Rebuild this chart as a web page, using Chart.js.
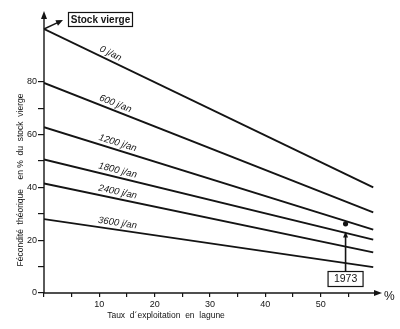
<!DOCTYPE html>
<html><head><meta charset="utf-8">
<script src="https://cdn.jsdelivr.net/npm/chart.js@4"></script>
<style>html,body{margin:0;padding:0;background:#fff}#w{width:400px;height:329px}</style>
</head><body><div id="w"><canvas id="c"></canvas></div>
<script>
const seriesNames = ['0 j/an','600 j/an','1200 j/an','1800 j/an','2400 j/an','3600 j/an'];
const xStart = 0;
const xEnd = 59.5;
const startValues = [100, 79.6, 62.8, 50.6, 41.5, 28];
const endValues = [40, 30.5, 24, 20.2, 15.4, 9.8];
const xTickValues = [0,5,10,15,20,25,30,35,40,45,50,55];
const xTickLabels = ['','','10','','20','','30','','40','','50',''];
const yTickValues = [0,10,20,30,40,50,60,70,80];
const yTickLabels = ['0','','20','','40','','60','','80'];
const curveLabelX = 9.6;
const obs1973 = {label:'1973', x:54.5, y:26.2, arrowTip:23.3, boxY:5.3};
const originLabel = 'Stock vierge';
const xTitle = 'Taux  d\u00b4exploitation  en  lagune';
const yTitle = 'F\u00e9condit\u00e9  th\u00e9orique    en %  du  stock  vierge';

const INK = '#141414';
const datasets = seriesNames.map((n,i)=>({
  label:n,
  data:[{x:xStart,y:startValues[i]},{x:xEnd,y:endValues[i]}],
  borderColor:INK, borderWidth:1.9, pointRadius:0, fill:false, tension:0
}));

function arrowHead(ctx, tx, ty, ang, len, half){
  ctx.save(); ctx.translate(tx,ty); ctx.rotate(ang);
  ctx.beginPath(); ctx.moveTo(0,0); ctx.lineTo(-len,-half); ctx.lineTo(-len,half); ctx.closePath(); ctx.fill();
  ctx.restore();
}

const deco = {
  id:'deco',
  afterDraw(chart){
    const {ctx, scales:{x,y}} = chart;
    const x0 = x.getPixelForValue(0), y0 = y.getPixelForValue(0);
    ctx.save();
    ctx.strokeStyle = INK; ctx.fillStyle = INK; ctx.lineWidth = 1.4;
    ctx.beginPath(); ctx.moveTo(x0,y0); ctx.lineTo(x0,17); ctx.stroke();
    arrowHead(ctx, x0, 11, -Math.PI/2, 8, 3);
    ctx.beginPath(); ctx.moveTo(x0,y0); ctx.lineTo(376,y0); ctx.stroke();
    arrowHead(ctx, 382, y0, 0, 8, 3);
    ctx.font = '12px "Liberation Sans"'; ctx.textAlign='left'; ctx.textBaseline='middle';
    ctx.fillText('%', 384, y0+4);
    const ox = x.getPixelForValue(xStart), oy = y.getPixelForValue(startValues[0]);
    const tx = 63, ty = 20;
    const ang = Math.atan2(ty-oy, tx-ox);
    ctx.lineWidth = 1.4;
    ctx.beginPath(); ctx.moveTo(ox,oy); ctx.lineTo(tx-6*Math.cos(ang), ty-6*Math.sin(ang)); ctx.stroke();
    arrowHead(ctx, tx, ty, ang, 7, 3);
    ctx.lineWidth = 1.2;
    ctx.strokeRect(68.5, 12.5, 64, 14);
    ctx.font = 'bold 10px "Liberation Sans"'; ctx.textAlign='center'; ctx.textBaseline='middle';
    ctx.fillText(originLabel, 100.5, 20);
    ctx.font = 'italic 9.5px "Liberation Sans"'; ctx.textAlign='left'; ctx.textBaseline='bottom';
    seriesNames.forEach((n,i)=>{
      const s = startValues[i], e = endValues[i];
      const yv = s + (e-s)*(curveLabelX-xStart)/(xEnd-xStart);
      const px = x.getPixelForValue(curveLabelX), py = y.getPixelForValue(yv);
      const a = Math.atan2(y.getPixelForValue(e)-y.getPixelForValue(s), x.getPixelForValue(xEnd)-x.getPixelForValue(xStart));
      ctx.save(); ctx.translate(px,py); ctx.rotate(a); ctx.fillText(n, 0, -2); ctx.restore();
    });
    const px = x.getPixelForValue(obs1973.x);
    ctx.beginPath(); ctx.arc(px, y.getPixelForValue(obs1973.y), 2.6, 0, Math.PI*2); ctx.fill();
    const bh = 15, bw = 35, by = y.getPixelForValue(obs1973.boxY);
    const tipY = y.getPixelForValue(obs1973.arrowTip);
    ctx.lineWidth = 1.6;
    ctx.beginPath(); ctx.moveTo(px, by-bh/2); ctx.lineTo(px, tipY+5); ctx.stroke();
    arrowHead(ctx, px, tipY, -Math.PI/2, 6, 2.5);
    ctx.lineWidth = 1.2;
    ctx.strokeRect(px-bw/2, by-bh/2, bw, bh);
    ctx.font = '10.5px "Liberation Sans"'; ctx.textAlign='center'; ctx.textBaseline='middle';
    ctx.fillText(obs1973.label, px, by+0.5);
    ctx.font = '8.5px "Liberation Sans"';
    ctx.fillText(xTitle, 166, 316);
    ctx.save(); ctx.translate(21, 180); ctx.rotate(-Math.PI/2); ctx.fillText(yTitle, 0, 0); ctx.restore();
    ctx.restore();
  }
};

new Chart(document.getElementById('c'), {
  type:'line',
  data:{datasets},
  options:{
    responsive:true, maintainAspectRatio:false, animation:false,
    layout:{padding:{top:29, right:24, left:0, bottom:0}},
    plugins:{legend:{display:false}, tooltip:{enabled:false}},
    scales:{
      x:{type:'linear', min:0, max:60,
        afterFit(s){ s.height = 36; },
        afterBuildTicks(s){ s.ticks = xTickValues.map(v=>({value:v})); },
        ticks:{autoSkip:false, maxRotation:0, padding:2, color:INK, font:{size:9, family:'"Liberation Sans"'},
          callback(v){ const i = xTickValues.indexOf(v); return i>=0 ? xTickLabels[i] : ''; }},
        grid:{drawOnChartArea:false, drawTicks:true, tickLength:4, color:INK, lineWidth:1.2},
        border:{display:false}
      },
      y:{type:'linear', min:0, max:100,
        afterFit(s){ s.width = 44; },
        afterBuildTicks(s){ s.ticks = yTickValues.map(v=>({value:v})); },
        ticks:{autoSkip:false, padding:1, color:INK, font:{size:9, family:'"Liberation Sans"'},
          callback(v){ const i = yTickValues.indexOf(v); return i>=0 ? yTickLabels[i] : ''; }},
        grid:{drawOnChartArea:false, drawTicks:true, tickLength:6, color:INK, lineWidth:1.2},
        border:{display:false}
      }
    }
  },
  plugins:[deco]
});
</script></body></html>
